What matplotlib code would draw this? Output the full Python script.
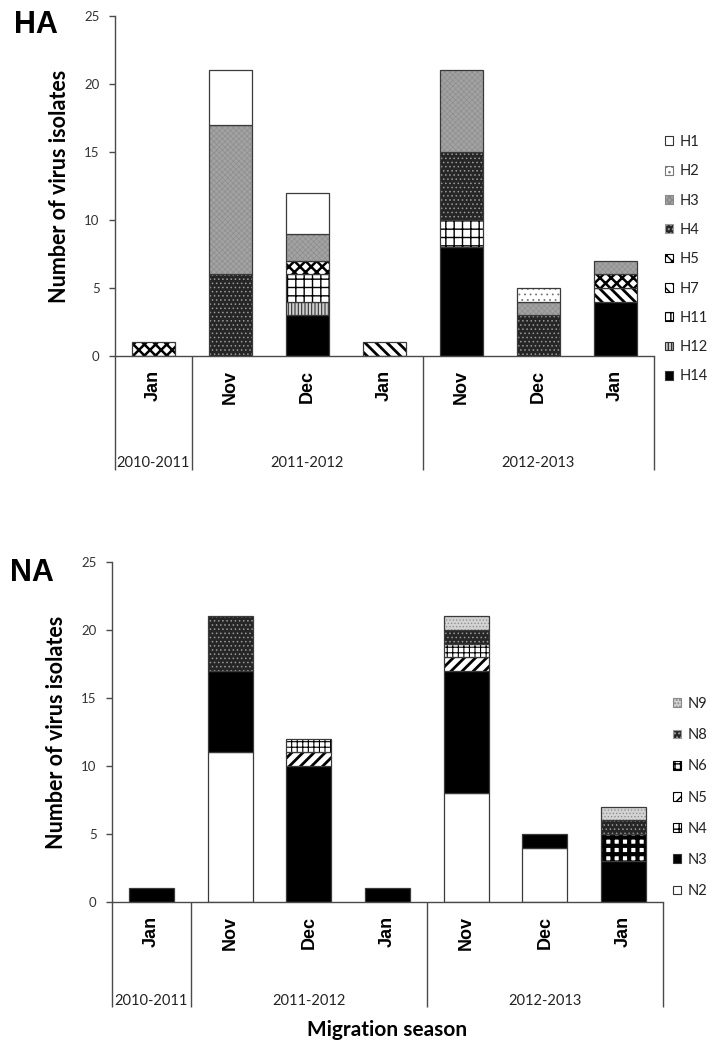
import numpy as np
import matplotlib as mpl
import matplotlib.pyplot as plt
from matplotlib.patches import Patch

# categories (x axis)
months = ['Jan', 'Nov', 'Dec', 'Jan', 'Nov', 'Dec', 'Jan']
seasons = ['2010-2011', '2011-2012', '2012-2013']
season_first = [0, 1, 4]
season_last = [0, 3, 6]

# HA subtypes, stacked bottom -> top
ha_names = ['H14', 'H12', 'H11', 'H7', 'H5', 'H4', 'H3', 'H2', 'H1']
H14 = [0, 0, 3, 0, 8, 0, 4]
H12 = [0, 0, 1, 0, 0, 0, 0]
H11 = [0, 0, 2, 0, 2, 0, 0]
H7 = [0, 0, 0, 1, 0, 0, 1]
H5 = [1, 0, 1, 0, 0, 0, 1]
H4 = [0, 6, 0, 0, 5, 3, 0]
H3 = [0, 11, 2, 0, 6, 1, 1]
H2 = [0, 0, 0, 0, 0, 1, 0]
H1 = [0, 4, 3, 0, 0, 0, 0]

# NA subtypes, stacked bottom -> top
na_names = ['N2', 'N3', 'N4', 'N5', 'N6', 'N8', 'N9']
N2 = [0, 11, 0, 0, 8, 4, 0]
N3 = [1, 6, 10, 1, 9, 1, 3]
N4 = [0, 0, 0, 0, 0, 0, 2]
N5 = [0, 0, 1, 0, 1, 0, 0]
N6 = [0, 0, 1, 0, 1, 0, 0]
N8 = [0, 4, 0, 0, 1, 0, 1]
N9 = [0, 0, 0, 0, 1, 0, 1]

# fill, hatch colour, hatch, hatch linewidth
styles = {
    'H1': ('white', None, '', 0),
    'H2': ('white', '#777777', '...', 0.6),
    'H3': ('#a2a2a2', '#8a8a8a', 'xxxxxx', 0.4),
    'H4': ('#262626', '#9a9a9a', '....', 0.6),
    'H5': ('white', 'black', 'xxx', 1.8),
    'H7': ('white', 'black', '\\\\\\', 2.0),
    'H11': ('white', 'black', '++', 1.0),
    'H12': ('#cfcfcf', '#333333', '|||||', 0.8),
    'H14': ('black', None, '', 0),
    'N2': ('white', None, '', 0),
    'N3': ('black', None, '', 0),
    'N4': ('white', 'black', '++', 3.0),
    'N5': ('white', 'black', '///', 2.0),
    'N6': ('white', 'black', '+++', 0.8),
    'N8': ('#262626', '#9a9a9a', '....', 0.6),
    'N9': ('#d2d2d2', '#8a8a8a', '.....', 0.5),
}

CAL = 'Lato'
ARL = 'Liberation Sans'
axis_col = '#4a4a4a'
bar_w = 0.57

plt.rcParams['font.family'] = CAL
plt.rcParams['hatch.linewidth'] = 1.0

fig = plt.figure(figsize=(7.24, 10.49), dpi=100)
W, H = 724, 1049


def px_axes(left, top, right, bottom):
    return fig.add_axes([left / W, 1 - bottom / H, (right - left) / W, (bottom - top) / H])


def set_hlw(p, lw):
    if lw and hasattr(p, 'set_hatch_linewidth'):
        p.set_hatch_linewidth(lw)


def panel(ax, names, data, year_y, sep_y, legend_top, legend_x, legend_sp):
    x = np.arange(len(months))
    bottom = np.zeros(len(months))
    handles = []
    for name, vals in zip(names, data):
        face, hcol, hatch, hlw = styles[name]
        vals = np.array(vals, float)
        m = vals > 0
        bars = ax.bar(x[m], vals[m], bar_w, bottom=bottom[m], color=face,
                      edgecolor=hcol if hcol else face, hatch=hatch, linewidth=0)
        for b in bars:
            set_hlw(b, hlw)
        ax.bar(x[m], vals[m], bar_w, bottom=bottom[m], fill=False,
               edgecolor='#3a3a3a', linewidth=0.9)
        bottom += vals
        hp = Patch(facecolor=face, edgecolor=hcol if hcol else '#333333',
                   hatch=hatch, linewidth=0.8)
        set_hlw(hp, min(hlw, 1.2))
        handles.append(hp)

    ax.set_xlim(-0.5, len(months) - 0.5)
    ax.set_ylim(0, 25)
    ax.set_yticks(np.arange(0, 26, 5))
    ax.tick_params(axis='y', length=4, width=1, color=axis_col, labelsize=9.5,
                   labelcolor='#333333', pad=7)
    ax.set_xticks(x, months, rotation=90, fontfamily=ARL, fontweight='bold',
                  fontsize=13)
    ax.tick_params(axis='x', length=0, pad=10)
    for s in ['top', 'right']:
        ax.spines[s].set_visible(False)
    for s in ['left', 'bottom']:
        ax.spines[s].set_color(axis_col)
        ax.spines[s].set_linewidth(1.0)
    ax.set_ylabel('Number of virus isolates', fontsize=15.5, fontweight='bold',
                  labelpad=10)

    # season separators and labels under the axis
    trans = ax.get_xaxis_transform()
    seps = [season_first[0] - 0.5] + [l + 0.5 for l in season_last]
    ax.vlines(seps, sep_y, 0, transform=trans, colors=axis_col, linewidth=1.0,
              clip_on=False)
    for lab, a, b in zip(seasons, season_first, season_last):
        ax.text((a + b) / 2, year_y, lab, transform=trans, ha='center',
                va='center', fontsize=10.5, color='#222222')

    leg = ax.legend(handles[::-1], names[::-1], loc='upper left',
                    bbox_to_anchor=(legend_x / W, 1 - legend_top / H),
                    bbox_transform=fig.transFigure, frameon=False,
                    fontsize=10.5, handlelength=0.55, handleheight=0.55,
                    handletextpad=0.45, labelspacing=legend_sp,
                    borderpad=0, borderaxespad=0)
    for t in leg.get_texts():
        t.set_color('#222222')


ax1 = px_axes(115, 16, 654, 356)
panel(ax1, ha_names, [H14, H12, H11, H7, H5, H4, H3, H2, H1],
      -0.315, -0.335, 135, 665, 1.05)
ax2 = px_axes(112, 562, 663, 902)
panel(ax2, na_names, [N2, N3, N4, N5, N6, N8, N9],
      -0.29, -0.31, 697, 673, 1.18)

fig.text(14 / W, 1 - 10 / H, 'HA', fontfamily=ARL, fontweight='bold',
         fontsize=22, va='top', ha='left')
fig.text(10 / W, 1 - 558 / H, 'NA', fontfamily=ARL, fontweight='bold',
         fontsize=22, va='top', ha='left')
fig.text(387 / W, 1 - 1030 / H, 'Migration season', fontweight='bold',
         fontsize=15, ha='center', va='center')

fig.savefig('out.png', dpi=100)
